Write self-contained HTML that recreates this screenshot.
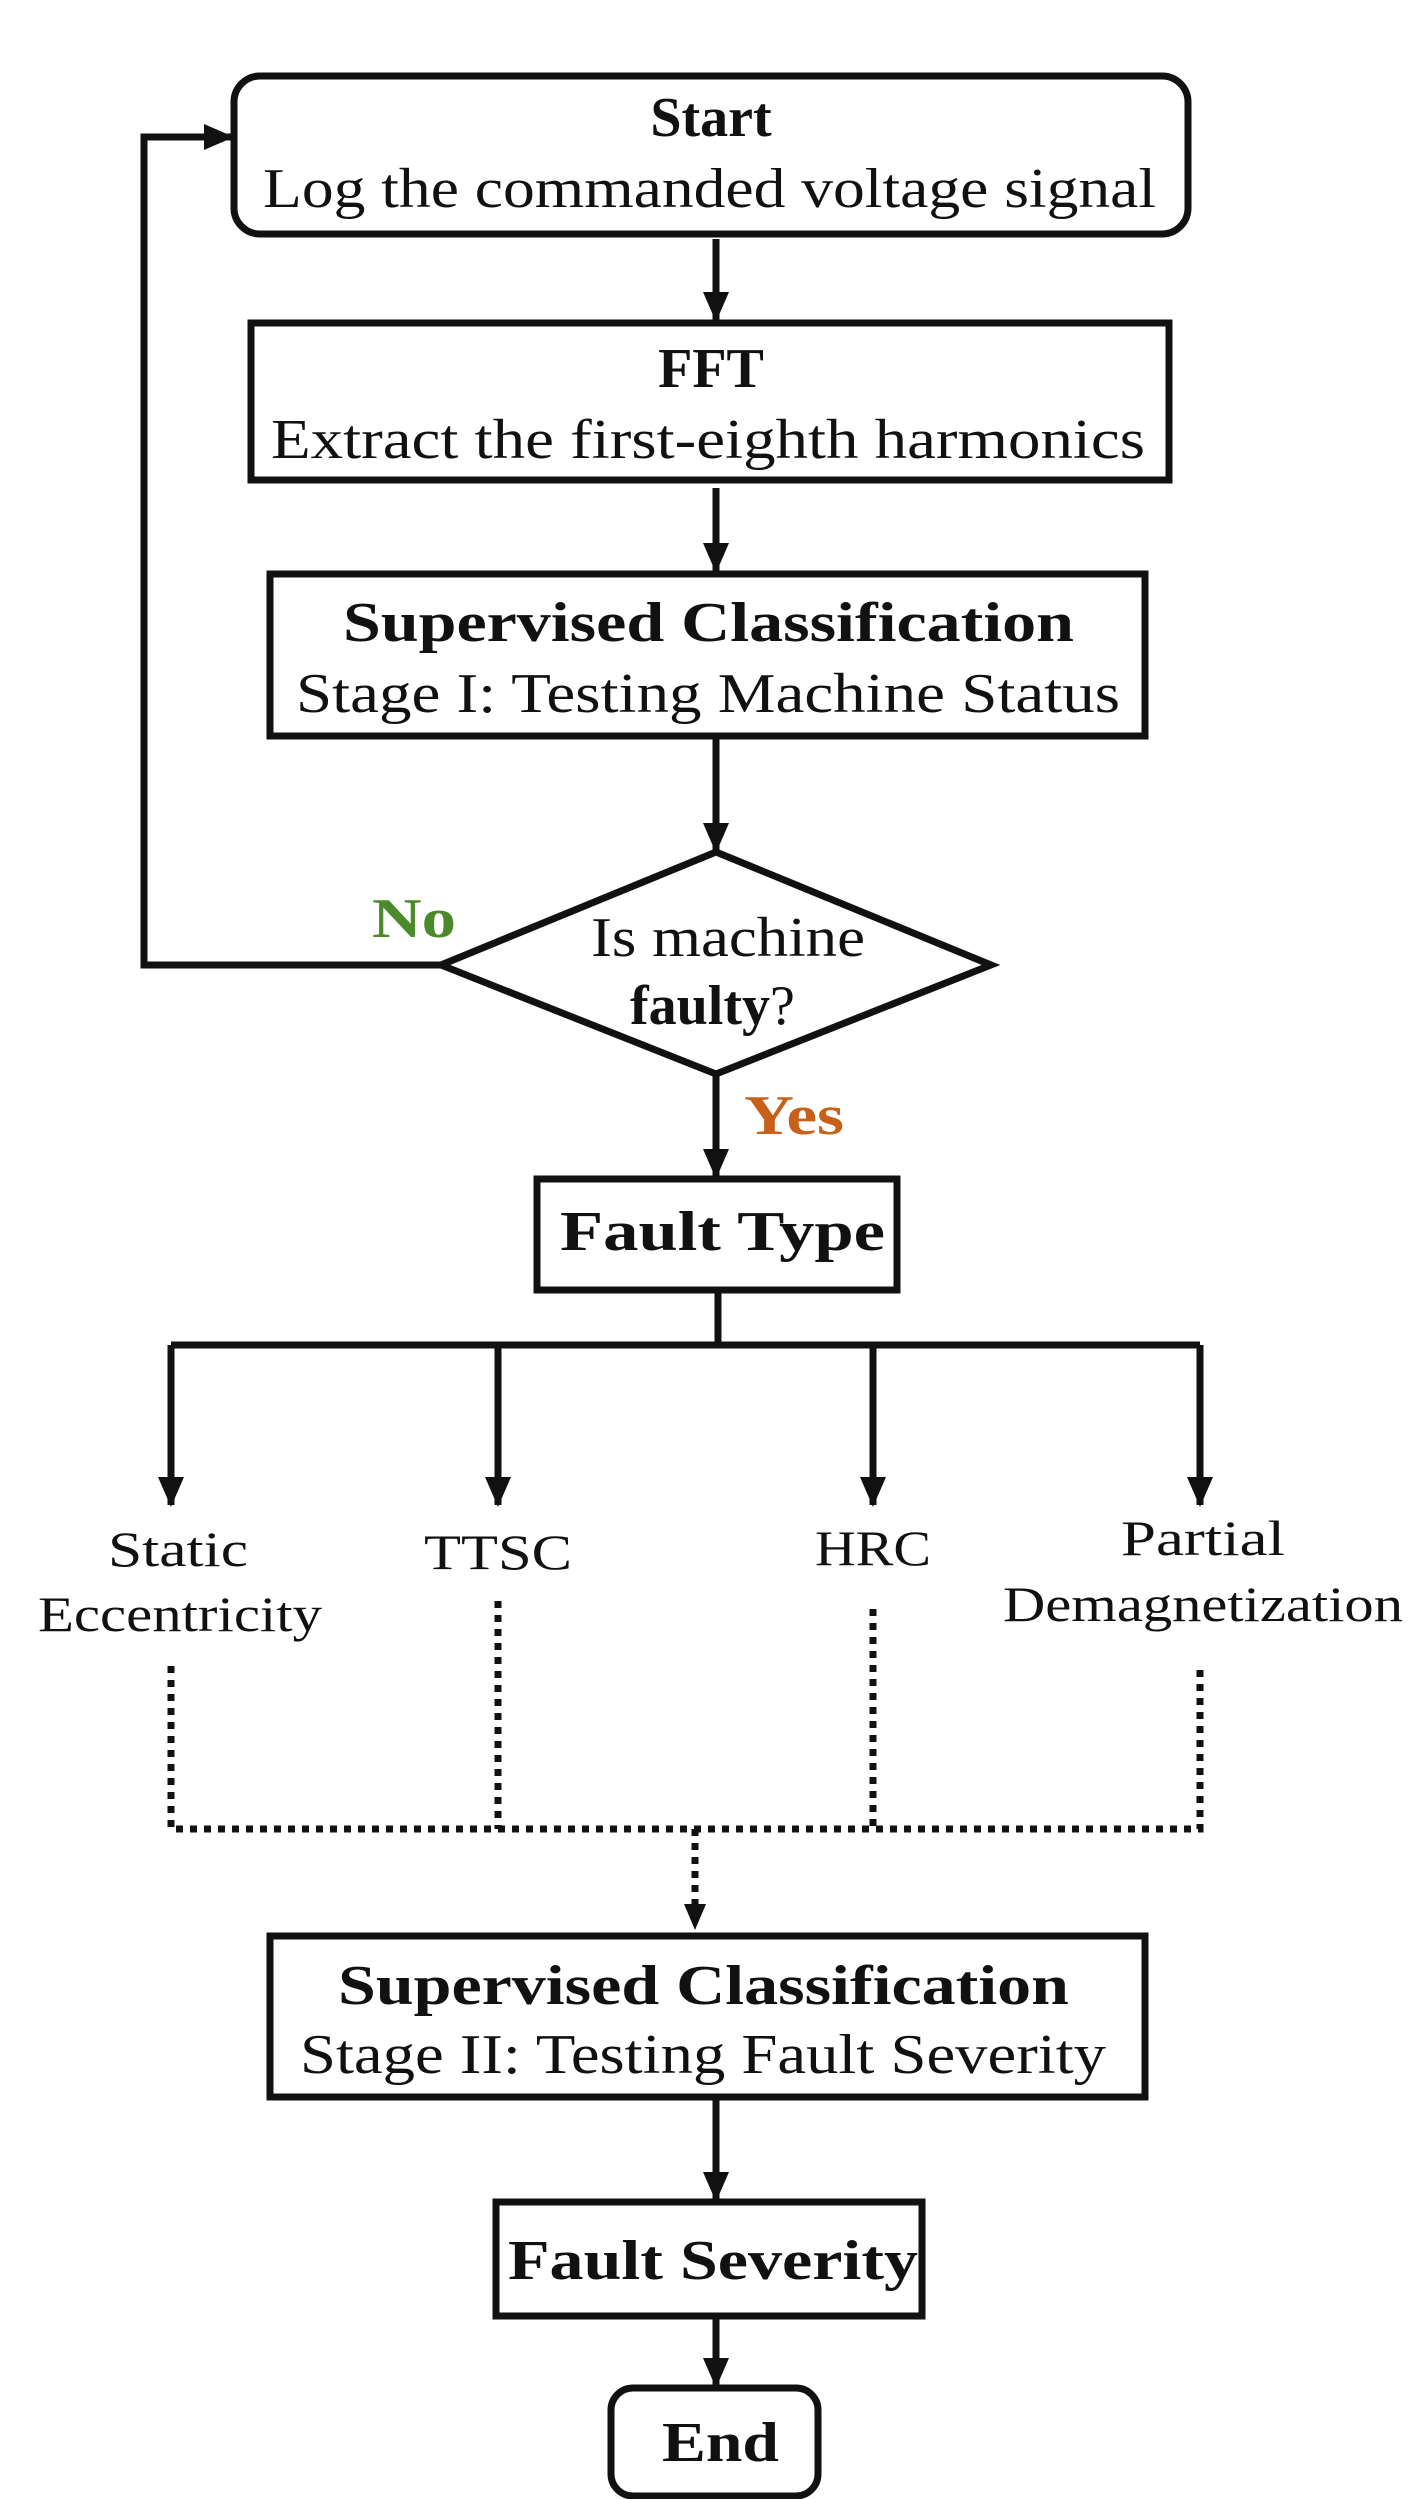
<!DOCTYPE html>
<html><head><style>html,body{margin:0;padding:0;background:#fff}svg{display:block}</style></head><body>
<svg width="1423" height="2499" viewBox="0 0 1423 2499" xmlns="http://www.w3.org/2000/svg" font-family="'Liberation Serif', serif" fill="#111">
<defs><marker id="a" markerWidth="30" markerHeight="26" refX="28" refY="13" orient="auto" markerUnits="userSpaceOnUse"><path d="M0,0 L30,13 L0,26 z" fill="#111"/></marker></defs>
<g stroke="#111" stroke-width="7" fill="none">
<rect x="234" y="76" width="954" height="158" rx="26"/>
<rect x="251" y="323" width="918" height="157"/>
<rect x="270" y="574" width="875" height="162"/>
<polygon points="716,852 991,965 716,1074 441,965" fill="#fff"/>
<rect x="537" y="1179" width="360" height="111"/>
<rect x="270" y="1936" width="875" height="161"/>
<rect x="496" y="2202" width="426" height="114"/>
<rect x="611" y="2388" width="207" height="108" rx="22"/>
<line x1="716" y1="239" x2="716" y2="320" marker-end="url(#a)"/>
<line x1="716" y1="488" x2="716" y2="571" marker-end="url(#a)"/>
<line x1="716" y1="736" x2="716" y2="851" marker-end="url(#a)"/>
<polyline points="441,965 144,965 144,137 232,137" marker-end="url(#a)"/>
<line x1="716" y1="1074" x2="716" y2="1177" marker-end="url(#a)"/>
<line x1="718" y1="1290" x2="718" y2="1345"/>
<line x1="171" y1="1345" x2="1200" y2="1345"/>
<line x1="171" y1="1345" x2="171" y2="1505" marker-end="url(#a)"/>
<line x1="498" y1="1345" x2="498" y2="1505" marker-end="url(#a)"/>
<line x1="873" y1="1345" x2="873" y2="1505" marker-end="url(#a)"/>
<line x1="1200" y1="1345" x2="1200" y2="1505" marker-end="url(#a)"/>
<line x1="716" y1="2097" x2="716" y2="2200" marker-end="url(#a)"/>
<line x1="716" y1="2316" x2="716" y2="2386" marker-end="url(#a)"/>
</g>
<g stroke="#111" stroke-width="7" fill="none" stroke-dasharray="7,7">
<polyline points="171,1666 171,1829 1200,1829 1200,1666"/>
<line x1="498" y1="1601" x2="498" y2="1829"/>
<line x1="873" y1="1609" x2="873" y2="1829"/>
<line x1="695" y1="1829" x2="695" y2="1905"/>
</g>
<path d="M684,1904 L706,1904 L695,1930 z" fill="#111"/>
<g font-size="56" dominant-baseline="central">
<text x="711" y="118" font-weight="bold" text-anchor="middle">Start</text>
<text x="263" y="189" textLength="893" lengthAdjust="spacingAndGlyphs">Log the commanded voltage signal</text>
<text x="711" y="369" font-weight="bold" text-anchor="middle">FFT</text>
<text x="271" y="440" textLength="874" lengthAdjust="spacingAndGlyphs">Extract the first-eighth harmonics</text>
<text x="343" y="623" font-weight="bold" textLength="731" lengthAdjust="spacingAndGlyphs">Supervised Classification</text>
<text x="296" y="694" textLength="824" lengthAdjust="spacingAndGlyphs">Stage I: Testing Machine Status</text>
<text x="591" y="938" textLength="274" lengthAdjust="spacingAndGlyphs">Is machine</text>
<text x="630" y="1006"><tspan font-weight="bold">faulty</tspan>?</text>
<text x="372" y="919" font-weight="bold" fill="#4a8a2a" textLength="84" lengthAdjust="spacingAndGlyphs">No</text>
<text x="744" y="1116" font-weight="bold" fill="#c8601a" textLength="100" lengthAdjust="spacingAndGlyphs">Yes</text>
<text x="560" y="1232" font-weight="bold" textLength="325" lengthAdjust="spacingAndGlyphs">Fault Type</text>
<text x="178" y="1549" text-anchor="middle" font-size="50" textLength="140" lengthAdjust="spacingAndGlyphs">Static</text>
<text x="38" y="1614" font-size="50" textLength="284" lengthAdjust="spacingAndGlyphs">Eccentricity</text>
<text x="498" y="1552" text-anchor="middle" font-size="50" textLength="148" lengthAdjust="spacingAndGlyphs">TTSC</text>
<text x="873" y="1548" text-anchor="middle" font-size="50" textLength="116" lengthAdjust="spacingAndGlyphs">HRC</text>
<text x="1203" y="1538" text-anchor="middle" font-size="50" textLength="164" lengthAdjust="spacingAndGlyphs">Partial</text>
<text x="1003" y="1604" font-size="50" textLength="400" lengthAdjust="spacingAndGlyphs">Demagnetization</text>
<text x="338" y="1986" font-weight="bold" textLength="731" lengthAdjust="spacingAndGlyphs">Supervised Classification</text>
<text x="300" y="2055" textLength="806" lengthAdjust="spacingAndGlyphs">Stage II: Testing Fault Severity</text>
<text x="508" y="2261" font-weight="bold" textLength="410" lengthAdjust="spacingAndGlyphs">Fault Severity</text>
<text x="662" y="2443" font-weight="bold" textLength="117" lengthAdjust="spacingAndGlyphs">End</text>
</g>
</svg>
</body></html>
